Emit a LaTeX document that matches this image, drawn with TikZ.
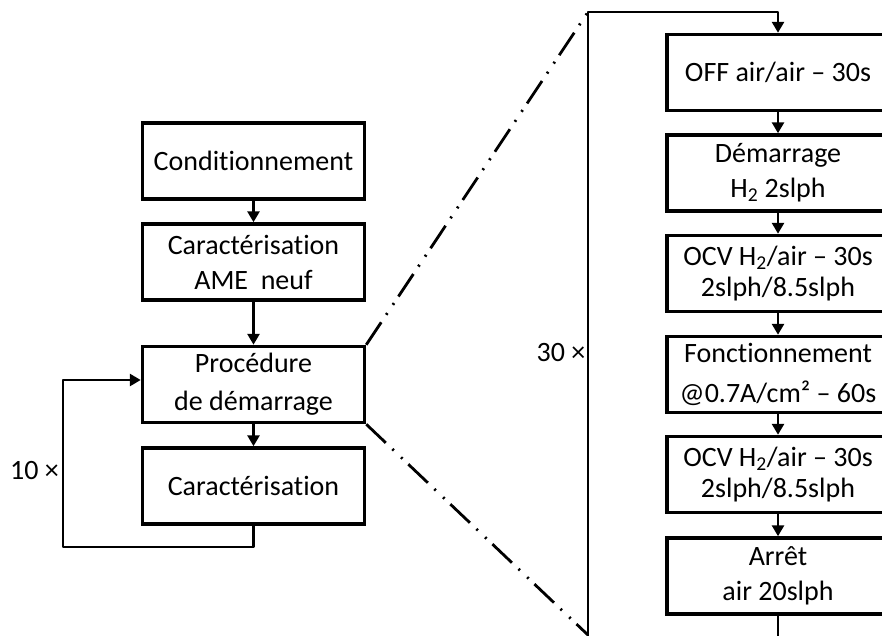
\documentclass[tikz,border=0pt]{standalone}
\usepackage{fontspec}
\setmainfont{Carlito}[Ligatures={NoCommon}]
\usetikzlibrary{arrows.meta}
\begin{document}
\begin{tikzpicture}[x=1pt,y=-1pt,
  stepbox/.style={draw,line width=3.5pt,minimum width=222pt,minimum height=76pt,inner sep=0pt,align=center,font=\fontsize{28}{35}\selectfont},
  conn/.style={line width=2.8pt,-{Triangle[length=11pt,width=12pt]}},
  zoomline/.style={line width=2.8pt,dash pattern=on 27pt off 9pt on 2pt off 10pt on 2pt off 8pt},
  lbl/.style={font=\fontsize{28}{35}\selectfont,inner sep=0pt}]
\useasboundingbox (0,0) rectangle (882,635);
\clip (0,0) rectangle (882,635);
% left column
\node[stepbox] (b1) at (253.5,161) {Conditionnement};
\node[stepbox] (b2) at (253.5,262) {Caractérisation\\AME\ \ neuf};
\node[stepbox] (b3) at (253.5,384.5) {Procédure\\[3pt]de démarrage};
\node[stepbox] (b4) at (253.5,486) {Caractérisation};
\draw[conn] (b1) -- (b2);
\draw[conn] (b2) -- (b3);
\draw[conn] (b3) -- (b4);
\coordinate (lb) at (253.5,547);
\coordinate (ll) at (63,547);
\coordinate (lt) at (63,380);
\draw[conn,line join=round] (b4.south) -- (lb) -- (ll) -- (lt) -- (lt -| b3.west);
\node[lbl] (n10) at (34.5,471) {10 ×};
% right column
\node[stepbox] (r1) at (778,72.5) {OFF air/air -- 30s};
\node[stepbox] (r2) at (778,173) {Démarrage\\H\textsubscript{2} 2slph};
\node[stepbox] (r3) at (778,273.5) {OCV H\textsubscript{2}/air -- 30s\\[-4pt]2slph/8.5slph};
\node[stepbox] (r4) at (778,374.5) {Fonctionnement\\[5pt]@0.7A/cm² -- 60s};
\node[stepbox] (r5) at (778,474.5) {OCV H\textsubscript{2}/air -- 30s\\[-4pt]2slph/8.5slph};
\node[stepbox] (r6) at (778,576) {Arrêt\\air 20slph};
\draw[conn] (r1) -- (r2);
\draw[conn] (r2) -- (r3);
\draw[conn] (r3) -- (r4);
\draw[conn] (r4) -- (r5);
\draw[conn] (r5) -- (r6);
\coordinate (rb) at (778,660);
\coordinate (rbl) at (588,660);
\coordinate (rtl) at (588,12);
\coordinate (rt) at (778,12);
\draw[conn,line join=round] (r6.south) -- (rb) -- (rbl) -- (rtl) -- (rt) -- (r1.north);
\node[lbl] (n30) at (561,353) {30 ×};
% zoom lines
\draw[zoomline] (b3.north east) -- (rtl);
\draw[zoomline] (b3.south east) -- (588,635);
\end{tikzpicture}
\end{document}
